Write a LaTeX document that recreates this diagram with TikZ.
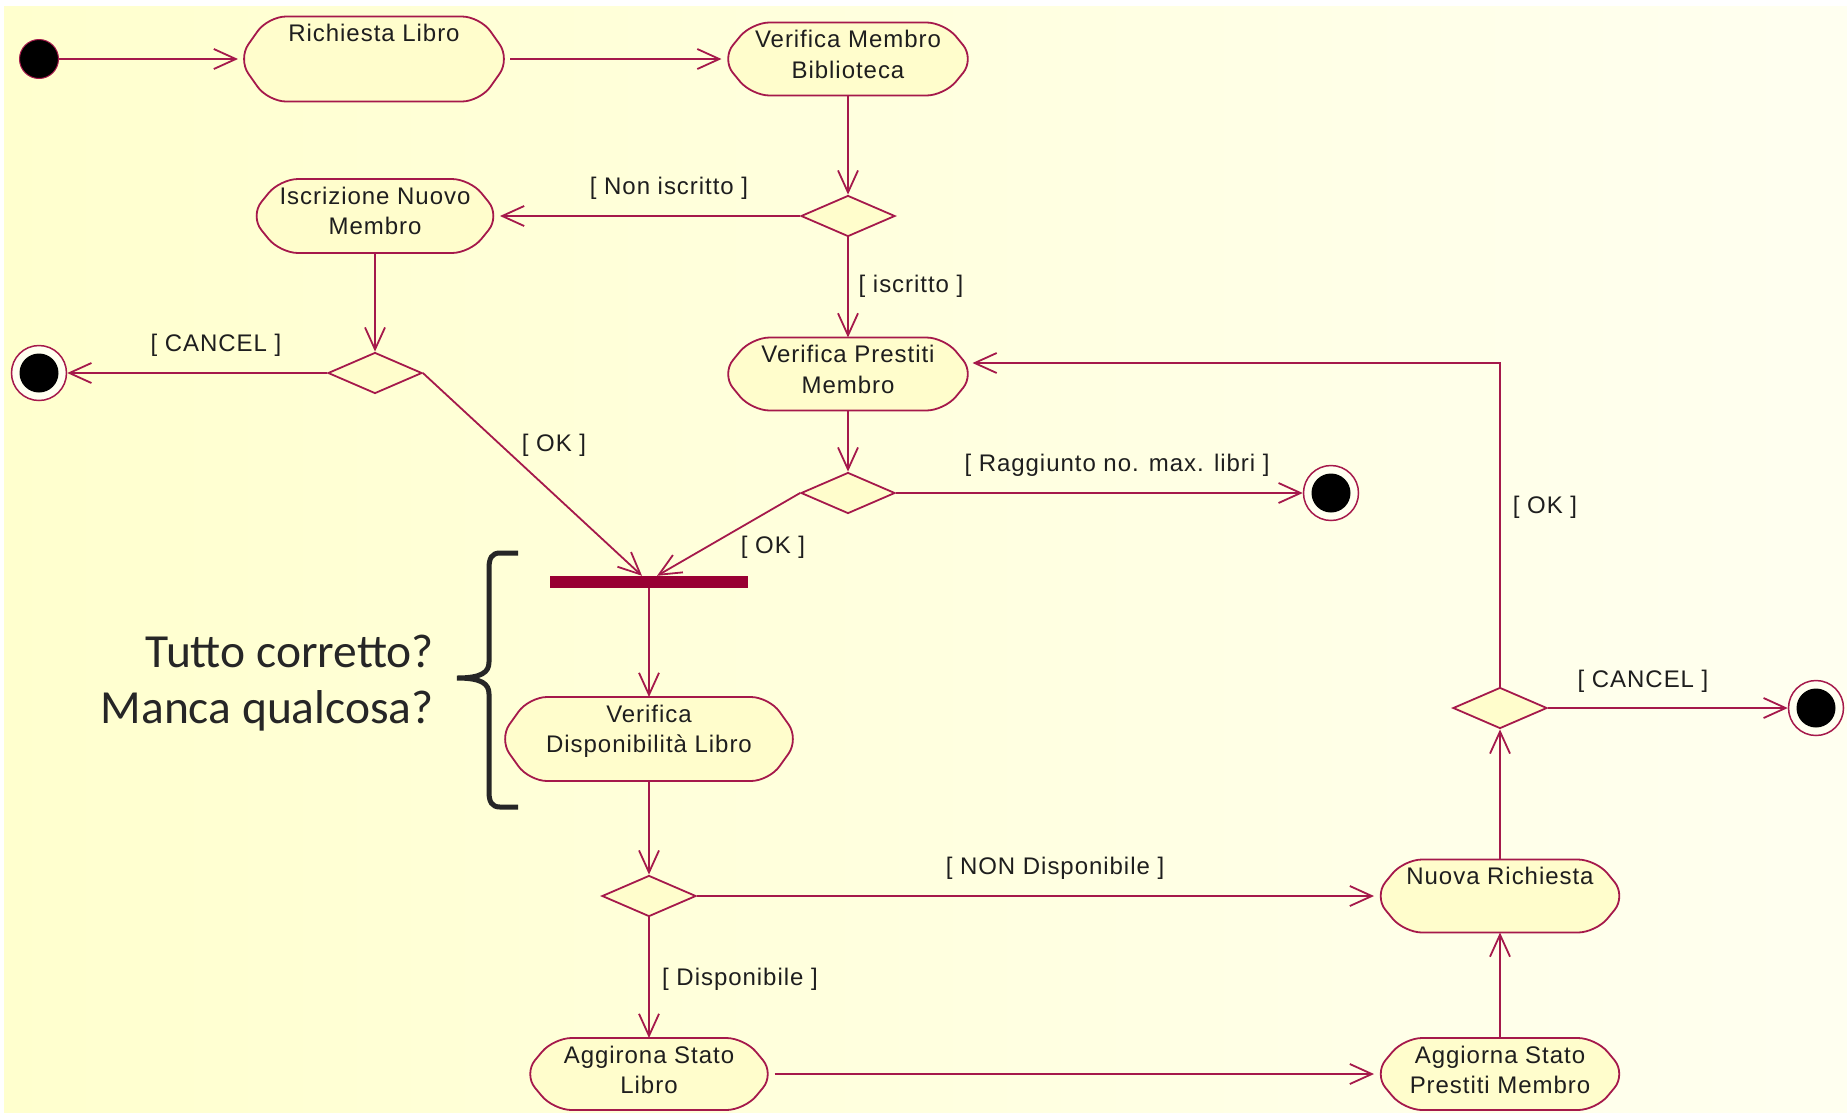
\documentclass[tikz,border=0pt]{standalone}
\usepackage{fontspec}
\newfontfamily\umlfont{Liberation Sans}[LetterSpace=4]
\newfontfamily\calib{Carlito}
\usetikzlibrary{shapes.geometric,arrows.meta,calc}
\pgfdeclarelayer{bg}
\pgfdeclarelayer{back}
\pgfsetlayers{bg,back,main}
\definecolor{lin}{RGB}{165,25,75}
\definecolor{actfill}{RGB}{255,253,204}
\definecolor{barc}{RGB}{153,0,51}
\definecolor{bgA}{RGB}{255,255,206}
\definecolor{bgB}{RGB}{255,255,240}
\definecolor{txt}{RGB}{30,30,30}
\definecolor{bracec}{RGB}{38,38,38}
\newcommand\acttxt[3]{\parbox[c][#2pt][t]{#1pt}{\centering\vspace*{4pt}\strut #3}}
\newcommand\actshape[1]{\draw[actline] (#1.north) -- ([xshift=-30pt]#1.north east) -- (#1.east) -- ([xshift=-30pt]#1.south east) -- ([xshift=30pt]#1.south west) -- (#1.west) -- ([xshift=30pt]#1.north west) -- cycle;}
\tikzset{
  act/.style={rectangle, inner sep=0pt, outer sep=0pt, text=txt, font=\umlfont\fontsize{24}{30.5}\selectfont},
  actline/.style={draw=lin, fill=actfill, line width=1.8pt, rounded corners=18pt},
  dec/.style={diamond, draw=lin, fill=actfill, line width=1.8pt, minimum width=94pt, minimum height=41pt, inner sep=0pt},
  initnode/.style={circle, fill=black, draw=lin, line width=1pt, minimum size=39pt, inner sep=0pt},
  finalnode/.style={circle, minimum size=55pt, inner sep=0pt, draw=lin, line width=1.5pt, fill=bgB,
    path picture={\fill[black] (path picture bounding box.center) circle (19.5pt);}},
  forkbar/.style={rectangle, fill=barc, minimum width=198pt, minimum height=12pt, inner sep=0pt},
  arr/.style={draw=lin, line width=1.8pt, -{Straight Barb[length=22pt,width=20pt]}},
  lbl/.style={text=txt, font=\umlfont\fontsize{24}{30}\selectfont, inner sep=0pt},
  question/.style={text=bracec, font=\calib\fontsize{47.5}{56}\selectfont, inner sep=0pt, anchor=base east}
}
\begin{document}
\begin{tikzpicture}[x=1pt,y=-1pt]
\useasboundingbox (0,0) rectangle (1847,1112);
\begin{pgfonlayer}{bg}
  \fill[white] (0,0) rectangle (1847,1112);
  \shade[left color=bgA, right color=bgB] (4,6) rectangle (1847,1112);
\end{pgfonlayer}

% action nodes
\node[act] (rl)  at (374,59)   {\acttxt{272}{85}{Richiesta Libro}};
\node[act] (vmb) at (848,59)   {\acttxt{253}{73}{Verifica Membro\\Biblioteca}};
\node[act] (isc) at (375,216)  {\acttxt{250}{74}{Iscrizione Nuovo\\Membro}};
\node[act] (vpm) at (848,374)  {\acttxt{253}{73}{Verifica Prestiti\\Membro}};
\node[act] (vdl) at (649,739)  {\acttxt{300}{84}{Verifica\\Disponibilità Libro}};
\node[act] (nr)  at (1500,896) {\acttxt{252}{73}{Nuova Richiesta}};
\node[act] (ag1) at (649,1074) {\acttxt{251}{72}{Aggirona Stato\\Libro}};
\node[act] (ag2) at (1500,1074){\acttxt{252}{72}{Aggiorna Stato\\Prestiti Membro}};

\begin{pgfonlayer}{back}
  \actshape{rl}\actshape{vmb}\actshape{isc}\actshape{vpm}
  \actshape{vdl}\actshape{nr}\actshape{ag1}\actshape{ag2}
\end{pgfonlayer}

% control nodes
\node[initnode] (init) at (39,59) {};
\node[dec] (d1) at (848,216) {};
\node[dec] (d2) at (375,373) {};
\node[dec] (d3) at (848,493) {};
\node[dec] (d4) at (649,896) {};
\node[dec] (d5) at (1500,708) {};
\node[finalnode] (fL) at (39,373) {};
\node[finalnode] (fM) at (1331,493) {};
\node[finalnode] (fR) at (1816,708) {};
\node[forkbar] (fork) at (649,582) {};
\coordinate (loopend) at ($(vpm.east)+(-2,-11)$);

% connectors
\draw[arr] (init.east) -- (rl.west);
\draw[arr] (rl.east) -- (vmb.west);
\draw[arr] (vmb.south) -- (d1.north);
\draw[arr] (d1.west) -- (isc.east);
\draw[arr] (d1.south) -- (vpm.north);
\draw[arr] (isc.south) -- (d2.north);
\draw[arr] (d2.west) -- (fL.east);
\draw[arr] (d2.east) -- ([xshift=-7pt]fork.north);
\draw[arr] (vpm.south) -- (d3.north);
\draw[arr] (d3.east) -- (fM.west);
\draw[arr] (d3.west) -- ([xshift=8pt]fork.north);
\draw[arr] (fork.south) -- (vdl.north);
\draw[arr] (vdl.south) -- (d4.north);
\draw[arr] (d4.east) -- (nr.west);
\draw[arr] (d4.south) -- (ag1.north);
\draw[arr] (ag1.east) -- (ag2.west);
\draw[arr] (ag2.north) -- (nr.south);
\draw[arr] (nr.north) -- (d5.south);
\draw[arr] (d5.east) -- (fR.west);
\draw[arr] (d5.north) |- (loopend);

% guard labels
\node[lbl] (g1)  at (669,188)  {[ Non iscritto ]};
\node[lbl] (g2)  at (911,286)  {[ iscritto ]};
\node[lbl] (g3)  at (216,345)  {[ CANCEL ]};
\node[lbl] (g4)  at (554,445)  {[ OK ]};
\node[lbl] (g5)  at (1117,465) {[ Raggiunto no. max. libri ]};
\node[lbl] (g6)  at (773,547)  {[ OK ]};
\node[lbl] (g7)  at (1055,868) {[ NON Disponibile ]};
\node[lbl] (g8)  at (740,979)  {[ Disponibile ]};
\node[lbl] (g9)  at (1643,681) {[ CANCEL ]};
\node[lbl] (g10) at (1545,507) {[ OK ]};

% annotation
\node[question] (q1) at (434,667) {Tutto corretto?};
\node[question] (q2) at (434,723) {Manca qualcosa?};
\draw[bracec, line width=5pt] (518,553) -- (500,553) .. controls (492,553) and (489,558) .. (489,568)
  -- (489,662) .. controls (489,672) and (482,678) .. (457,678)
  .. controls (482,678) and (489,684) .. (489,694)
  -- (489,792) .. controls (489,802) and (492,807) .. (500,807) -- (518,807);
\end{tikzpicture}
\end{document}
